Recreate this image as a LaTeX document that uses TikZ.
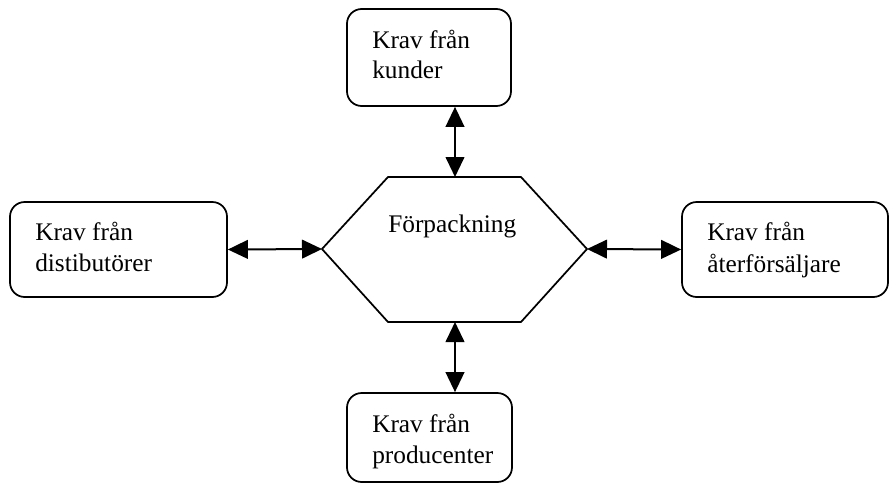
\documentclass[tikz,border=0pt]{standalone}
\usepackage{fontspec}
\setmainfont{Liberation Serif}
\usetikzlibrary{arrows.meta}
\begin{document}
\begin{tikzpicture}[x=0.75pt,y=-0.75pt,
  krav/.style={draw, line width=1.3pt, rounded corners=11pt, inner sep=0pt},
  txt/.style={anchor=base west, inner sep=0pt, font=\fontsize{19}{23}\selectfont},
  link/.style={line width=1.5pt, {Triangle[length=15pt,width=14pt]}-{Triangle[length=15pt,width=14pt]}}]
\useasboundingbox (0,0) rectangle (890,486);

% requirement boxes
\node[krav, minimum width=123pt, minimum height=72.75pt] (kund) at (429,57.5) {};
\node[krav, minimum width=162.75pt, minimum height=71.25pt] (dist) at (118.5,249.5) {};
\node[krav, minimum width=154.5pt, minimum height=71.25pt] (ater) at (785,249.5) {};
\node[krav, minimum width=123.75pt, minimum height=66.75pt] (prod) at (429.5,437.5) {};

\node[txt] (kundA) at (372,48) {Krav från};
\node[txt] (kundB) at (372,78) {kunder};
\node[txt] (distA) at (35,240) {Krav från};
\node[txt] (distB) at (35,271) {distibutörer};
\node[txt] (aterA) at (707,240) {Krav från};
\node[txt] (aterB) at (707,272) {återförsäljare};
\node[txt] (prodA) at (372,432) {Krav från};
\node[txt] (prodB) at (372,463) {producenter};

% central hexagon
\coordinate (hexL) at (322,249);
\coordinate (hexR) at (587,249);
\coordinate (hexT) at (455,177);
\coordinate (hexB) at (455,322);
\draw[line width=1.3pt, line join=miter] (hexL) -- (388,177) -- (521,177) -- (hexR) -- (521,322) -- (388,322) -- cycle;
\node[txt] (forp) at (388,232) {Förpackning};

% two-way connectors
\draw[link] (kund.south -| hexT) -- (hexT);
\draw[link] (hexB) -- (prod.north -| hexB);
\draw[link] (dist.east) -- (hexL);
\draw[link] (hexR) -- (ater.west);
\end{tikzpicture}
\end{document}
